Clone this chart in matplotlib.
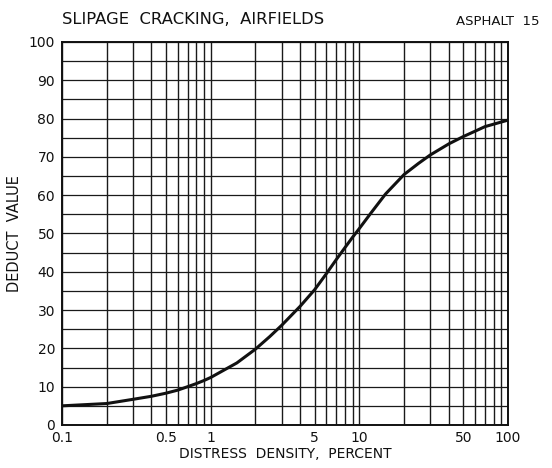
import matplotlib
matplotlib.use("Agg")
import matplotlib.pyplot as plt
from matplotlib.ticker import FixedLocator, NullFormatter, NullLocator

# Data
density = [0.1, 0.2, 0.3, 0.4, 0.5, 0.6, 0.7, 0.8, 0.9, 1, 1.5, 2, 2.5, 3, 4, 5, 6, 7, 8, 9,
           10, 12, 15, 20, 25, 30, 40, 50, 60, 70, 100]
deduct = [5.0, 5.6, 6.7, 7.5, 8.3, 9.1, 10.0, 10.8, 11.6, 12.4, 16.2, 19.8, 23.1, 26.0,
          31.0, 35.3, 39.5, 43.2, 46.3, 49.0, 51.3, 55.4, 60.3, 65.4, 68.3, 70.5, 73.4,
          75.3, 76.7, 77.9, 79.6]
x_tick_vals = [0.1, 0.5, 1, 5, 10, 50, 100]
x_tick_labels = ["0.1", "0.5", "1", "5", "10", "50", "100"]
y_tick_vals = [0, 10, 20, 30, 40, 50, 60, 70, 80, 90, 100]

fig = plt.figure(figsize=(5.52, 4.68), dpi=100)
ax = fig.add_axes([0.1123, 0.0919, 0.808, 0.8184])
ax.set_xscale("log")
ax.set_xlim(0.1, 100)
ax.set_ylim(0, 100)

grid_color = "#1a1a1a"
# vertical grid lines: 1..9 x each decade
vgrid = [m * d for d in (0.1, 1, 10) for m in range(1, 10)] + [100]
for v in vgrid:
    ax.axvline(v, color=grid_color, lw=1.0, zorder=1)
for h in range(0, 101, 5):
    ax.axhline(h, color=grid_color, lw=0.9, zorder=1)

ax.plot(density, deduct, color="#111111", lw=2.2, zorder=3,
        solid_capstyle="round", solid_joinstyle="round")

ax.xaxis.set_major_locator(FixedLocator(x_tick_vals))
ax.xaxis.set_minor_locator(NullLocator())
ax.set_xticklabels(x_tick_labels)
ax.xaxis.set_minor_formatter(NullFormatter())
ax.set_yticks(y_tick_vals)
ax.tick_params(axis="both", length=0, labelsize=10, colors="#111111")
ax.tick_params(axis="x", pad=4)
ax.tick_params(axis="y", pad=5)
for s in ax.spines.values():
    s.set_color("#111111")
    s.set_linewidth(1.4)

ax.set_xlabel("DISTRESS  DENSITY,  PERCENT", fontsize=10, labelpad=2, color="#111111")
ax.set_ylabel("DEDUCT  VALUE", fontsize=10.5, labelpad=5, color="#111111")

fig.text(0.1123, 0.958, "SLIPAGE  CRACKING,  AIRFIELDS", fontsize=11.8,
         ha="left", va="center", color="#111111")
fig.text(0.978, 0.955, "ASPHALT  15", fontsize=9.5, ha="right", va="center",
         color="#111111")

fig.savefig("out.png", dpi=100)
